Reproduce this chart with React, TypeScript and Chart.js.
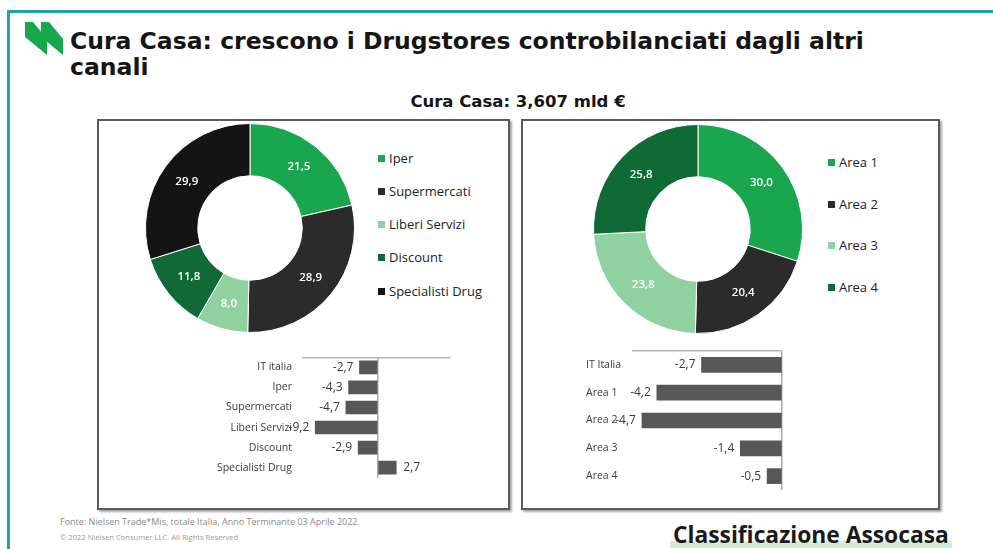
import React, { useEffect, useRef } from "react";
import { Chart, registerables } from "chart.js";

Chart.register(...registerables);

// ---------- data ----------
const channelLabels = ["Iper", "Supermercati", "Liberi Servizi", "Discount", "Specialisti Drug"];
const channelShares = [21.5, 28.9, 8.0, 11.8, 29.9];
const channelColors = ["#1aa64f", "#2b2b2b", "#8fd2a0", "#0f6a36", "#141414"];

const areaLabels = ["Area 1", "Area 2", "Area 3", "Area 4"];
const areaShares = [30.0, 20.4, 23.8, 25.8];
const areaColors = ["#1aa64f", "#2b2b2b", "#8fd2a0", "#0f6a36"];

const channelTrendLabels = ["IT italia", "Iper", "Supermercati", "Liberi Servizi", "Discount", "Specialisti Drug"];
const channelTrend = [-2.7, -4.3, -4.7, -9.2, -2.9, 2.7];

const areaTrendLabels = ["IT Italia", "Area 1", "Area 2", "Area 3", "Area 4"];
const areaTrend = [-2.7, -4.2, -4.7, -1.4, -0.5];

const FONT = '"Open Sans", "Noto Sans", sans-serif';
const TITLE_FONT = '"DejaVu Sans", "Open Sans", sans-serif';
const fmt = (v: number) => v.toFixed(1).replace(".", ",");

// ---------- plugins ----------
const doughnutLabelPlugin = {
  id: "doughnutLabels",
  afterDatasetsDraw(chart: any) {
    const ctx = chart.ctx;
    const meta = chart.getDatasetMeta(0);
    const data = chart.data.datasets[0].data as number[];
    ctx.save();
    ctx.fillStyle = "#ffffff";
    ctx.font = `600 11.5px ${FONT}`;
    ctx.textAlign = "center";
    ctx.textBaseline = "middle";
    meta.data.forEach((arc: any, i: number) => {
      const p = arc.tooltipPosition();
      ctx.fillText(fmt(data[i]), p.x, p.y);
    });
    ctx.restore();
  },
};

const barValuePlugin = {
  id: "barValues",
  afterDatasetsDraw(chart: any) {
    const ctx = chart.ctx;
    const meta = chart.getDatasetMeta(0);
    const data = chart.data.datasets[0].data as number[];
    ctx.save();
    ctx.fillStyle = "#3a3a3a";
    ctx.font = `12px ${FONT}`;
    ctx.textBaseline = "middle";
    meta.data.forEach((bar: any, i: number) => {
      const v = data[i];
      if (v < 0) {
        ctx.textAlign = "right";
        ctx.fillText(fmt(v), bar.x - 6, bar.y);
      } else {
        ctx.textAlign = "left";
        ctx.fillText(fmt(v), bar.x + 7, bar.y);
      }
    });
    ctx.restore();
  },
};

// ---------- chart components ----------
function Doughnut(props: { labels: string[]; values: number[]; colors: string[]; left: number; top: number; size: number }) {
  const ref = useRef<HTMLCanvasElement>(null);
  useEffect(() => {
    if (!ref.current) return;
    const chart = new Chart(ref.current, {
      type: "doughnut",
      data: {
        labels: props.labels,
        datasets: [
          {
            data: props.values,
            backgroundColor: props.colors,
            borderColor: "#ffffff",
            borderWidth: 1,
          },
        ],
      },
      options: {
        responsive: false,
        animation: false,
        cutout: "50%",
        layout: { padding: 0 },
        plugins: { legend: { display: false }, tooltip: { enabled: false } },
      },
      plugins: [doughnutLabelPlugin],
    } as any);
    return () => chart.destroy();
  }, []);
  return (
    <canvas
      ref={ref}
      width={props.size}
      height={props.size}
      style={{ position: "absolute", left: props.left, top: props.top, width: props.size, height: props.size }}
    />
  );
}

function HBar(props: {
  labels: string[];
  values: number[];
  left: number;
  top: number;
  width: number;
  height: number;
  min: number;
  max: number;
  padding: { left: number; right: number; top: number; bottom: number };
  axisWidth: number;
  tickPadding: number;
  crossAlign: string;
  thickness: number;
  labelSize: number;
}) {
  const ref = useRef<HTMLCanvasElement>(null);
  useEffect(() => {
    if (!ref.current) return;
    const chart = new Chart(ref.current, {
      type: "bar",
      data: {
        labels: props.labels,
        datasets: [
          {
            data: props.values,
            backgroundColor: "#575757",
            barThickness: props.thickness,
          },
        ],
      },
      options: {
        indexAxis: "y",
        responsive: false,
        animation: false,
        layout: { padding: props.padding },
        plugins: { legend: { display: false }, tooltip: { enabled: false } },
        scales: {
          x: {
            position: "top",
            min: props.min,
            max: props.max,
            afterBuildTicks: (s: any) => {
              s.ticks = [{ value: 0 }];
            },
            afterFit: (s: any) => {
              s.height = 0;
            },
            ticks: { display: false },
            grid: { color: "#a8a8a8", lineWidth: 1.5, drawTicks: false },
            border: { display: true, color: "#b5b5b5", width: 1.5 },
          },
          y: {
            afterFit: (s: any) => {
              s.width = props.axisWidth;
            },
            grid: { display: false, drawTicks: false },
            border: { display: false },
            ticks: {
              color: "#3a3a3a",
              font: { family: FONT, size: props.labelSize },
              padding: props.tickPadding,
              crossAlign: props.crossAlign,
              autoSkip: false,
            },
          },
        },
      },
      plugins: [barValuePlugin],
    } as any);
    return () => chart.destroy();
  }, []);
  return (
    <canvas
      ref={ref}
      width={props.width}
      height={props.height}
      style={{ position: "absolute", left: props.left, top: props.top, width: props.width, height: props.height }}
    />
  );
}

function Legend(props: { labels: string[]; colors: string[]; left: number; tops: number[] }) {
  return (
    <>
      {props.labels.map((l, i) => (
        <div
          key={l}
          style={{
            position: "absolute",
            left: props.left,
            top: props.tops[i] - 9,
            height: 18,
            lineHeight: "18px",
            fontFamily: FONT,
            fontSize: 13,
            color: "#222",
            whiteSpace: "nowrap",
            display: "flex",
            alignItems: "center",
          }}
        >
          <span style={{ display: "inline-block", width: 7, height: 7, background: props.colors[i], marginRight: 4 }} />
          {l}
        </div>
      ))}
    </>
  );
}

function Logo() {
  return (
    <svg style={{ position: "absolute", left: 0, top: 0 }} width={80} height={70}>
      <polygon points="25,22 33,22 47,39 47,55 25,37" fill="#17a84e" />
      <polygon points="41,22 49,22 63,39 63,55 41,37" fill="#17a84e" />
    </svg>
  );
}

export default function App() {
  return (
    <div
      style={{
        position: "absolute",
        left: 0,
        top: 0,
        width: 993,
        height: 549,
        overflow: "hidden",
        background: "#ffffff",
        fontFamily: FONT,
      }}
    >
      {/* teal frame */}
      <div
        style={{
          position: "absolute",
          left: 7,
          top: 10,
          width: 1000,
          height: 600,
          borderTop: "3px solid #1ba4aa",
          borderLeft: "3px solid #1ba4aa",
        }}
      />
      <Logo />
      <div
        style={{
          position: "absolute",
          left: 70,
          top: 28,
          fontFamily: TITLE_FONT,
          fontSize: 23.5,
          fontWeight: 700,
          lineHeight: "26px",
          color: "#151515",
          whiteSpace: "nowrap",
        }}
      >
        Cura Casa: crescono i Drugstores controbilanciati dagli altri
        <br />
        canali
      </div>
      <div
        style={{
          position: "absolute",
          left: 300,
          width: 436,
          top: 92,
          textAlign: "center",
          fontFamily: TITLE_FONT,
          fontSize: 16.5,
          fontWeight: 700,
          color: "#151515",
        }}
      >
        Cura Casa: 3,607 mld €
      </div>

      {/* boxes */}
      <div
        style={{
          position: "absolute",
          left: 97,
          top: 119,
          width: 413,
          height: 391,
          boxSizing: "border-box",
          border: "2px solid #5a5a5a",
          boxShadow: "2px 2px 2px rgba(0,0,0,0.35)",
        }}
      />
      <div
        style={{
          position: "absolute",
          left: 521,
          top: 119,
          width: 419,
          height: 391,
          boxSizing: "border-box",
          border: "2px solid #5a5a5a",
          boxShadow: "2px 2px 2px rgba(0,0,0,0.35)",
        }}
      />

      <Doughnut labels={channelLabels} values={channelShares} colors={channelColors} left={145} top={123} size={210} />
      <Legend labels={channelLabels} colors={channelColors} left={378} tops={[158, 191, 224, 257, 291]} />

      <Doughnut labels={areaLabels} values={areaShares} colors={areaColors} left={593} top={124} size={210} />
      <Legend labels={areaLabels} colors={areaColors} left={828} tops={[162, 204, 245, 287]} />

      <HBar
        labels={channelTrendLabels}
        values={channelTrend}
        left={200}
        top={340}
        width={300}
        height={155}
        min={-11}
        max={10.6}
        padding={{ left: 0, right: 50, top: 9, bottom: 10 }}
        axisWidth={103}
        tickPadding={11}
        crossAlign="near"
        thickness={13}
        labelSize={10.5}
      />
      <HBar
        labels={areaTrendLabels}
        values={areaTrend}
        left={576}
        top={342}
        width={216}
        height={160}
        min={-5}
        max={0}
        padding={{ left: 10, right: 10, top: 9, bottom: 12 }}
        axisWidth={47}
        tickPadding={0}
        crossAlign="far"
        thickness={15}
        labelSize={10.5}
      />

      {/* footer */}
      <div style={{ position: "absolute", left: 60, top: 515, fontSize: 9, color: "#8a8a8a", whiteSpace: "nowrap" }}>
        Fonte: Nielsen Trade*Mis, totale Italia, Anno Terminante 03 Aprile 2022.
      </div>
      <div style={{ position: "absolute", left: 60, top: 532, fontSize: 7.6, color: "#9a9a9a", whiteSpace: "nowrap" }}>
        © 2022 Nielsen Consumer LLC. All Rights Reserved
      </div>
      <div
        style={{
          position: "absolute",
          left: 670,
          top: 541,
          width: 282,
          height: 7,
          background: "rgba(150,215,165,0.45)",
        }}
      />
      <div
        style={{
          position: "absolute",
          left: 673,
          top: 519,
          fontSize: 22.8,
          fontWeight: 700,
          color: "#1a1a1a",
          whiteSpace: "nowrap",
        }}
      >
        Classificazione Assocasa
      </div>
    </div>
  );
}
